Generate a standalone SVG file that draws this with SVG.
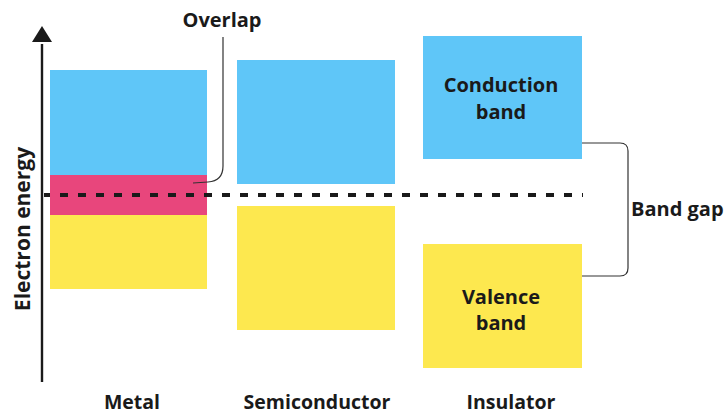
<svg xmlns="http://www.w3.org/2000/svg" width="726" height="416" viewBox="0 0 726 416">
  <style>
    .lbl { font-family: "Open Sans", "Liberation Sans", sans-serif; font-weight: 700; font-size: 20px; fill: #1a1a1a; font-variant-ligatures: none; }
    .mid { text-anchor: middle; }
    .cap { font-size: 19.5px; }
    .cb { fill: #5fc6f8; }
    .vb { fill: #fde84f; }
    .ov { fill: #e8467c; }
    .thin { fill: none; stroke: #333; stroke-width: 1.2; }
  </style>
  <rect width="726" height="416" fill="#ffffff"/>

  <!-- energy axis -->
  <g id="axis">
    <line x1="42" y1="382" x2="42" y2="44" stroke="#1a1a1a" stroke-width="2.4"/>
    <path d="M32,42 L42,26 L52,42 Z" fill="#1a1a1a"/>
    <text class="lbl" style="font-size:21px" transform="translate(30,229) rotate(-90)" text-anchor="middle">Electron energy</text>
  </g>

  <!-- metal bands -->
  <g id="metal">
    <rect class="cb" x="50" y="70" width="157" height="105"/>
    <rect class="vb" x="50" y="215" width="157" height="74"/>
    <rect class="ov" x="50" y="175" width="157" height="40"/>
    <text class="lbl mid cap" x="132" y="409">Metal</text>
  </g>

  <!-- semiconductor bands -->
  <g id="semiconductor">
    <rect class="cb" x="237" y="60" width="158" height="124"/>
    <rect class="vb" x="237" y="206" width="158" height="124"/>
    <text class="lbl mid cap" x="317" y="409">Semiconductor</text>
  </g>

  <!-- insulator bands -->
  <g id="insulator">
    <rect class="cb" x="423" y="36" width="159" height="123"/>
    <text class="lbl mid" x="501" y="92">Conduction</text>
    <text class="lbl mid" x="501" y="119">band</text>
    <rect class="vb" x="423" y="244" width="159" height="124"/>
    <text class="lbl mid" x="501" y="304">Valence</text>
    <text class="lbl mid" x="501" y="330">band</text>
    <text class="lbl mid cap" x="511" y="409">Insulator</text>
  </g>

  <g id="overlap-label">
    <text class="lbl mid" x="222" y="27">Overlap</text>
  </g>
  <g id="band-gap-label">
    <text class="lbl" x="631" y="216">Band gap</text>
  </g>

  <!-- connectors -->
  <g id="connectors">
    <!-- Fermi level -->
    <line x1="44" y1="195" x2="583" y2="195" stroke="#1a1a1a" stroke-width="4" stroke-dasharray="8,10" stroke-dashoffset="2"/>
    <path class="thin" d="M223,37 L223,166 Q223,181 208,182 L193,183"/>
    <path class="thin" d="M582,143 L620,143 Q628,143 628,151 L628,268 Q628,276 620,276 L582,276"/>
  </g>
</svg>
